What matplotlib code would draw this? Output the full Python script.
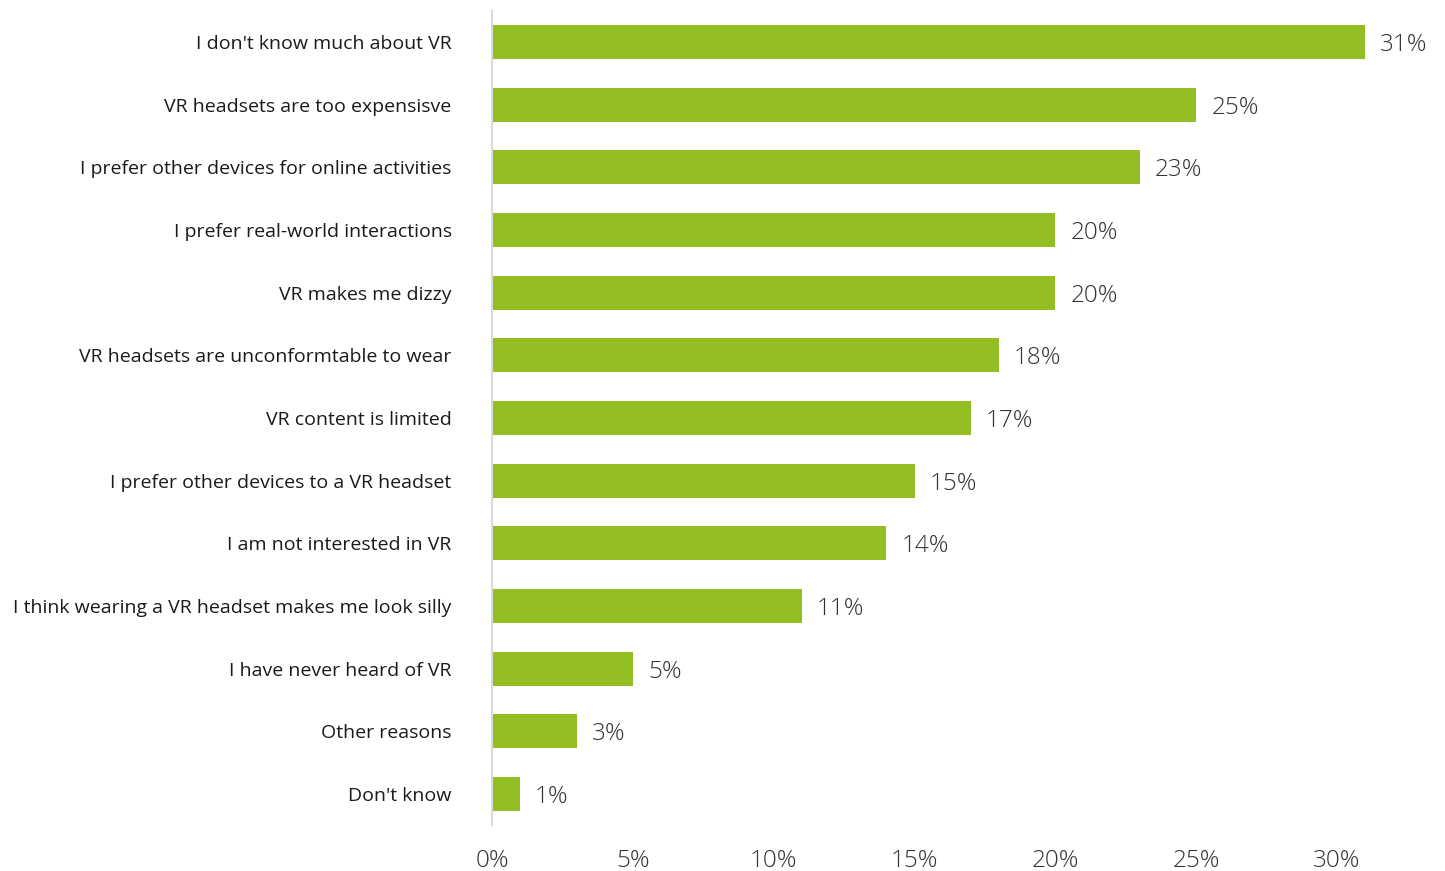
import matplotlib
matplotlib.use("Agg")
import matplotlib.pyplot as plt
import numpy as np

plt.rcParams["font.family"] = ["Open Sans", "DejaVu Sans"]

reasons = [
    "I don't know much about VR",
    "VR headsets are too expensisve",
    "I prefer other devices for online activities",
    "I prefer real-world interactions",
    "VR makes me dizzy",
    "VR headsets are unconformtable to wear",
    "VR content is limited",
    "I prefer other devices to a VR headset",
    "I am not interested in VR",
    "I think wearing a VR headset makes me look silly",
    "I have never heard of VR",
    "Other reasons",
    "Don't know",
]
shares = [31, 25, 23, 20, 20, 18, 17, 15, 14, 11, 5, 3, 1]
xticks = [0, 5, 10, 15, 20, 25, 30]

W, H = 1445, 871
fig = plt.figure(figsize=(W / 100, H / 100), dpi=100)
x0, x30 = 492, 1337
px_per = (x30 - x0) / 30
xmax = 32
top, bottom = 10.7, 825.3
ax = fig.add_axes([x0 / W, 1 - bottom / H, xmax * px_per / W, (bottom - top) / H])

y = np.arange(len(reasons))
ax.barh(y, shares, height=0.54, color="#92bd23", zorder=2)
ax.set_ylim(len(reasons) - 0.5, -0.5)
ax.set_xlim(0, xmax)

for yi, v in zip(y, shares):
    ax.text(v + 15 / px_per, yi, f"{v}%", va="center_baseline", ha="left",
            fontsize=17.5, color="#333333", fontweight="light")

ax.set_yticks(y)
ax.set_yticklabels(reasons, fontsize=14, color="#1a1a1a")
ax.set_xticks(xticks)
ax.set_xticklabels([f"{t}%" for t in xticks], fontsize=17.5, color="#333333",
                   fontweight="light")
ax.tick_params(axis="y", length=0, pad=29)
ax.tick_params(axis="x", length=0, pad=17)

for s in ["top", "right", "bottom"]:
    ax.spines[s].set_visible(False)
ax.spines["left"].set_color("#d9d9d9")
ax.spines["left"].set_linewidth(1.5)

fig.savefig("out.png", dpi=100)
